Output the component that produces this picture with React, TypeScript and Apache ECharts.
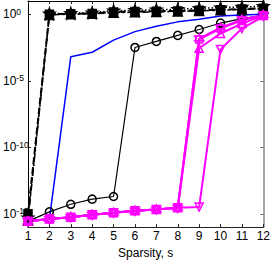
import React, { useEffect, useRef } from "react";
import * as echarts from "echarts";

const sparsity = [1, 2, 3, 4, 5, 6, 7, 8, 9, 10, 11, 12];
const yTickValues = [1e-15, 1e-10, 1e-5, 1];

const blackDashSquare = [1.0e-15, 1.0, 1.1, 1.15, 1.5, 1.6, 1.7, 1.8, 2.0, 2.2, 2.5, 2.8];
const blackDashDotTriangle = [3.0e-16, 0.9, 1.0, 1.1, 1.3, 1.4, 1.5, 1.6, 1.8, 2.0, 2.3, 2.6];
const blackDottedStar = [5.0e-16, 1.1, 1.2, 1.3, 1.9, 2.0, 2.2, 2.4, 2.8, 3.2, 3.6, 4.0];
const blueSolid = [2.7e-16, 4.0e-16, 6.5e-4, 1.4e-3, 1.15e-2, 5.0e-2, 0.125, 0.27, 0.43, 0.74, 0.9, 1.0];
const blackCircle = [2.7e-16, 1.4e-15, 5.2e-15, 1.26e-14, 2.0e-14, 3.2e-3, 9.1e-3, 2.6e-2, 7.2e-2, 0.22, 0.48, 0.85];
const magentaStar = [2.7e-16, 4.0e-16, 5.6e-16, 8.5e-16, 1.2e-15, 1.7e-15, 2.1e-15, 2.8e-15, 1.5e-2, 0.1, 0.4, 0.9];
const magentaSquare = [2.7e-16, 4.0e-16, 5.6e-16, 8.5e-16, 1.2e-15, 1.7e-15, 2.1e-15, 2.8e-15, 1.3e-2, 8.5e-2, 0.35, 0.85];
const magentaTriUp = [2.7e-16, 4.0e-16, 5.6e-16, 8.5e-16, 1.2e-15, 1.7e-15, 2.1e-15, 2.8e-15, 2.8e-3, 3.6e-2, 0.2, 0.8];
const magentaTriDown = [2.7e-16, 4.0e-16, 5.6e-16, 8.5e-16, 1.2e-15, 1.7e-15, 2.1e-15, 2.8e-15, 3.2e-15, 2.3e-3, 8.5e-2, 0.7];

const STAR5 = "path://M5,0 L6.2,3.5 L10,3.5 L7,5.8 L8.1,9.5 L5,7.2 L1.9,9.5 L3,5.8 L0,3.5 L3.8,3.5 Z";
const HEXAGRAM = "path://M5,0 L6.2,2.5 L9.3,2.5 L7.5,5 L9.3,7.5 L6.2,7.5 L5,10 L3.8,7.5 L0.7,7.5 L2.5,5 L0.7,2.5 L3.8,2.5 Z";
const TRI_DOWN = "path://M0,0 L10,0 L5,9 Z";

function mk(
  name: string,
  values: number[],
  color: string,
  lineType: any,
  lineWidth: number,
  symbol: string,
  symbolSize: number,
  fill: string
) {
  return {
    name,
    type: "line",
    data: sparsity.map((x, i) => [x, values[i]]),
    symbol,
    symbolSize,
    showSymbol: symbol !== "none",
    lineStyle: { color, width: lineWidth, type: lineType },
    itemStyle: { color: fill, borderColor: color, borderWidth: 1.5 },
    emphasis: { disabled: true },
  };
}

export default function App() {
  const ref = useRef<HTMLDivElement>(null);
  useEffect(() => {
    if (!ref.current) return;
    const chart = echarts.init(ref.current, undefined, { renderer: "svg" });
    const font = "Liberation Sans, Arial, sans-serif";
    const yLabel = {
      customValues: yTickValues,
      align: "left",
      margin: 25,
      formatter: (v: number) => `{b|10}{s|${Math.round(Math.log10(v))}}`,
      rich: {
        b: { fontSize: 12, fontFamily: font, color: "#000", lineHeight: 14 },
        s: { fontSize: 8.5, fontFamily: font, color: "#000", lineHeight: 8, verticalAlign: "top" },
      },
    };
    chart.setOption({
      animation: false,
      backgroundColor: "#fff",
      grid: { left: 26, right: 7, top: 1, bottom: 35, containLabel: false },
      xAxis: [
        {
          type: "value",
          min: 1,
          max: 12,
          interval: 1,
          name: "Sparsity, s",
          nameLocation: "middle",
          nameGap: 18,
          nameTextStyle: { fontSize: 12, fontFamily: font, color: "#000" },
          axisLine: { show: true, lineStyle: { color: "#222", width: 1 } },
          axisTick: { show: true, inside: true, length: 3, lineStyle: { color: "#222" } },
          axisLabel: { fontSize: 12, fontFamily: font, color: "#000", margin: 3 },
          splitLine: { show: false },
        },
        {
          type: "value",
          position: "top",
          min: 1,
          max: 12,
          interval: 1,
          axisLine: { show: true, onZero: false, lineStyle: { color: "#000", width: 1 } },
          axisTick: { show: true, inside: true, length: 3, lineStyle: { color: "#222" } },
          axisLabel: { show: false },
          splitLine: { show: false },
        },
      ],
      yAxis: [
        {
          type: "log",
          logBase: 10,
          min: 1e-16,
          max: 10,
          axisLine: { show: true, onZero: false, lineStyle: { color: "#000", width: 1 } },
          axisTick: { show: true, inside: true, length: 3, customValues: yTickValues, lineStyle: { color: "#222" } },
          axisLabel: yLabel,
          splitLine: { show: false },
          minorTick: { show: false },
        },
        {
          type: "log",
          logBase: 10,
          position: "right",
          min: 1e-16,
          max: 10,
          axisLine: { show: true, onZero: false, lineStyle: { color: "#888", width: 1.5 } },
          axisTick: { show: true, inside: true, length: 3, customValues: yTickValues, lineStyle: { color: "#666" } },
          axisLabel: { show: false },
          splitLine: { show: false },
        },
      ],
      series: [
        mk("dotted-star", blackDottedStar, "#000", [1.5, 2], 1.5, STAR5, 11, "#000"),
        mk("dashdot-tri", blackDashDotTriangle, "#000", [7, 3, 2, 3], 1.5, "triangle", 9, "#000"),
        mk("dash-square", blackDashSquare, "#000", [7, 3], 2, "rect", 8, "#000"),
        mk("blue", blueSolid, "#0000ff", "solid", 1.5, "none", 0, "#0000ff"),
        mk("circle", blackCircle, "#000", "solid", 1.2, "circle", 8, "transparent"),
        mk("m-star", magentaStar, "#ff00ff", "solid", 2, HEXAGRAM, 9, "transparent"),
        mk("m-square", magentaSquare, "#ff00ff", "solid", 2, "rect", 7, "transparent"),
        mk("m-triup", magentaTriUp, "#ff00ff", "solid", 2, "triangle", 8, "transparent"),
        mk("m-tridown", magentaTriDown, "#ff00ff", "solid", 2, TRI_DOWN, 8, "transparent"),
      ],
    });
    return () => chart.dispose();
  }, []);
  return (
    <div
      ref={ref}
      style={{ width: 273, height: 264, position: "absolute", left: 0, top: 0 }}
    />
  );
}
